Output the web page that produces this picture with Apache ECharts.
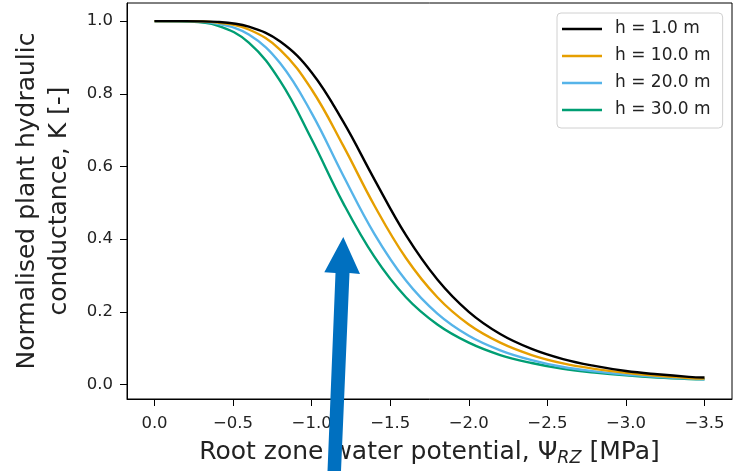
<!DOCTYPE html>
<html>
<head>
<meta charset="utf-8">
<script src="https://cdn.jsdelivr.net/npm/echarts@6/dist/echarts.min.js"></script>
<style>
  html, body { margin: 0; padding: 0; background: #fff; }
  #container { width: 736px; height: 471px; }
</style>
</head>
<body>
<div id="container"></div>
<script>
  // root zone water potential (MPa)
  var psi = [0, -0.2, -0.4, -0.6, -0.8, -1.0, -1.2, -1.4, -1.6, -1.8, -2.0, -2.2, -2.4, -2.6, -2.8, -3.0, -3.2, -3.4, -3.5];
  // normalised conductance
  var k_h1 = [1.000, 1.000, 0.998, 0.985, 0.944, 0.859, 0.724, 0.564, 0.411, 0.289, 0.200, 0.139, 0.098, 0.070, 0.051, 0.037, 0.028, 0.021, 0.019];
  var k_h10 = [1.000, 1.000, 0.996, 0.977, 0.921, 0.812, 0.658, 0.492, 0.348, 0.240, 0.165, 0.115, 0.081, 0.058, 0.043, 0.032, 0.024, 0.018, 0.016];
  var k_h20 = [1.000, 1.000, 0.993, 0.963, 0.884, 0.747, 0.576, 0.414, 0.286, 0.195, 0.134, 0.094, 0.067, 0.048, 0.036, 0.027, 0.021, 0.016, 0.014];
  var k_h30 = [1.000, 0.999, 0.988, 0.941, 0.835, 0.675, 0.500, 0.351, 0.240, 0.165, 0.115, 0.081, 0.059, 0.043, 0.033, 0.025, 0.019, 0.015, 0.014];
  var names = ['h = 1.0 m', 'h = 10.0 m', 'h = 20.0 m', 'h = 30.0 m'];
  var colors = ['#000000', '#E69F00', '#56B4E9', '#009E73'];
  var xTicks = [0, -0.5, -1.0, -1.5, -2.0, -2.5, -3.0, -3.5];
  var yTicks = [0, 0.2, 0.4, 0.6, 0.8, 1.0];

  var font = 'DejaVu Sans';

  function pairs(ys) {
    return psi.map(function (x, i) { return [x, ys[i]]; });
  }

  var myChart = echarts.init(document.getElementById('container'));
  var allK = [k_h1, k_h10, k_h20, k_h30];
  var series = allK.map(function (ys, i) {
    return {
      name: names[i],
      type: 'line',
      data: pairs(ys),
      smooth: 0.4,
      symbol: 'none',
      lineStyle: { color: colors[i], width: 2.4 },
      itemStyle: { color: colors[i] },
      z: 2 + (3 - i)
    };
  });

  var option = {
    backgroundColor: '#fff',
    animation: false,
    grid: {
      left: 127, right: 4, top: 3, bottom: 72,
      containLabel: false,
      outerBoundsMode: 'none',
      show: true, borderColor: '#000', borderWidth: 1
    },
    legend: {
      orient: 'vertical',
      left: 557, top: 13,
      data: names,
      icon: 'rect',
      itemWidth: 40, itemHeight: 2.5,
      itemGap: 7,
      padding: [6, 12, 8, 5],
      borderColor: '#d0d0d0', borderWidth: 1, borderRadius: 4,
      backgroundColor: '#fff',
      textStyle: { fontFamily: font, fontSize: 17, color: '#222', lineHeight: 20, padding: [0, 0, 0, 8] }
    },
    xAxis: {
      type: 'value',
      inverse: true,
      min: -3.675, max: 0.175,
      splitLine: { show: false },
      axisLine: { show: true, onZero: false, lineStyle: { color: '#000', width: 1 } },
      axisTick: { show: true, customValues: xTicks, length: 7, lineStyle: { color: '#000' } },
      axisLabel: {
        customValues: xTicks,
        margin: 16,
        fontFamily: font, fontSize: 16.5, color: '#222',
        formatter: function (v) { return (v < 0 ? '\u2212' : '') + Math.abs(v).toFixed(1); }
      },
      name: 'Root zone water potential, \u03A8{sub|RZ} [MPa]',
      nameLocation: 'middle',
      nameGap: 38,
      nameTextStyle: {
        fontFamily: font, fontSize: 25, color: '#222', lineHeight: 30,
        rich: { sub: { fontFamily: font, fontSize: 17.5, fontStyle: 'italic', color: '#222', verticalAlign: 'bottom', lineHeight: 17 } }
      }
    },
    yAxis: {
      type: 'value',
      min: -0.04, max: 1.05,
      splitLine: { show: false },
      axisLine: { show: true, onZero: false, lineStyle: { color: '#000', width: 1 } },
      axisTick: { show: true, customValues: yTicks, length: 7, lineStyle: { color: '#000' } },
      axisLabel: {
        customValues: yTicks,
        margin: 14,
        fontFamily: font, fontSize: 16.5, color: '#222',
        formatter: function (v) { return v.toFixed(1); }
      },
      name: 'Normalised plant hydraulic\nconductance, K [-]',
      nameLocation: 'middle',
      nameGap: 42,
      nameRotate: 90,
      nameTextStyle: { fontFamily: font, fontSize: 25, color: '#222', lineHeight: 32, align: 'center' }
    },
    // blue arrow annotation laid over the figure
    graphic: [{
      type: 'polygon',
      z: 100,
      shape: {
        points: [[343.3, 237], [360, 274], [349.5, 273], [341, 471], [327.5, 471], [335.5, 273], [324.3, 272.3]]
      },
      style: { fill: '#0070C0' }
    }],
    series: series
  };
  myChart.setOption(option);
</script>
</body>
</html>
